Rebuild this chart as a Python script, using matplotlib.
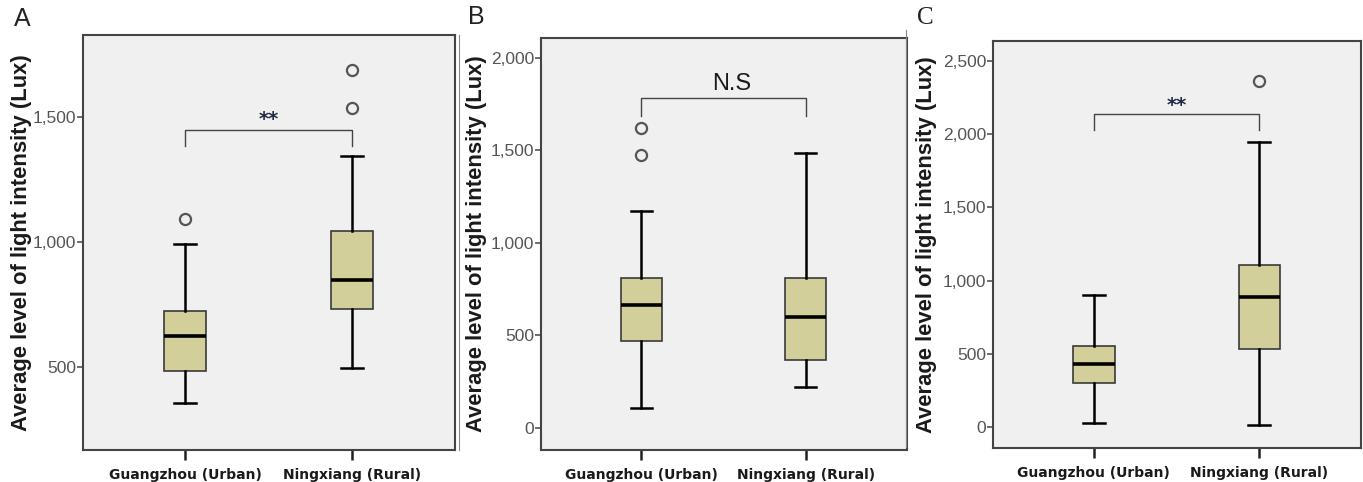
import matplotlib.pyplot as plt
from matplotlib.lines import Line2D

# group names shared by all panels
groups = ["Guangzhou (Urban)", "Ningxiang (Rural)"]

# five-number summaries: lower whisker, Q1, median, Q3, upper whisker
statsA = [[356, 484, 624, 724, 992], [496, 732, 848, 1044, 1344]]
fliersA = [[1092], [1536, 1688]]
statsB = [[108, 468, 665, 811, 1173], [221, 365, 600, 808, 1484]]
fliersB = [[1478, 1619], []]
statsC = [[27, 302, 432, 555, 904], [14, 534, 891, 1109, 1945]]
fliersC = [[], [2363]]

panels = [
    # letter, stats, fliers, ylim, yticks, bracket (top, leg bottom), label, label y, label size
    ("A", statsA, fliersA, (168, 1828), [500, 1000, 1500], (1448, 1384), "**", 1490, 14),
    ("B", statsB, fliersB, (-119, 2108), [0, 500, 1000, 1500, 2000], (1781, 1684), "N.S", 1800, 17),
    ("C", statsC, fliersC, (-143, 2637), [0, 500, 1000, 1500, 2000, 2500], (2137, 2027), "**", 2196, 14),
]

axes_pos = [
    [0.0609, 0.0664, 0.2729, 0.861],
    [0.3969, 0.0664, 0.2685, 0.8548],
    [0.7285, 0.0705, 0.2700, 0.8444],
]
label_x = [-0.137, -0.147, -0.152]
letter_pos = [(0.010, 0.960), (0.343, 0.965), (0.673, 0.963)]

fig = plt.figure(figsize=(13.63, 4.82), dpi=100)

for i, (letter, stats, fliers, ylim, yticks, bracket, sig, sig_y, sig_size) in enumerate(panels):
    ax = fig.add_axes(axes_pos[i])
    ax.set_facecolor("#f0f0f0")

    bxp_stats = []
    for name, s, f in zip(groups, stats, fliers):
        bxp_stats.append({"label": name, "whislo": s[0], "q1": s[1], "med": s[2],
                          "q3": s[3], "whishi": s[4], "fliers": f})

    ax.bxp(bxp_stats, positions=[1, 2], widths=0.25, patch_artist=True,
           capwidths=0.13,
           boxprops=dict(facecolor="#d3cf9a", edgecolor="#3a3a3a", linewidth=1.2),
           medianprops=dict(color="black", linewidth=2.6),
           whiskerprops=dict(color="black", linewidth=1.8),
           capprops=dict(color="black", linewidth=1.8),
           flierprops=dict(marker="o", markerfacecolor="none", markeredgecolor="#555555",
                           markersize=8, markeredgewidth=1.6))

    # significance bracket
    top, leg = bracket
    ax.plot([1, 1, 2, 2], [leg, top, top, leg], color="#444444", linewidth=1.0)
    if sig == "N.S":
        ax.text(1.55, sig_y, sig, ha="center", va="bottom", fontsize=sig_size,
                family="Liberation Sans", color="#1a1a1a")
    else:
        ax.text(1.5, sig_y, sig, ha="center", va="center", fontsize=sig_size,
                fontweight="bold", family="DejaVu Sans", color="#1f2a44")

    ax.set_xlim(0.39, 2.615)
    ax.set_ylim(*ylim)
    ax.set_yticks(yticks)
    ax.set_yticklabels([f"{v:,}" for v in yticks])
    ax.set_xticks([1, 2])
    ax.set_xticklabels(groups)

    ax.tick_params(axis="y", length=4, width=1.2, color="#555555", pad=1,
                   labelsize=12.5, labelcolor="#555555")
    ax.tick_params(axis="x", length=7, width=1.8, color="#222222", pad=6,
                   labelsize=10, labelcolor="#1a1a1a")
    for lab in ax.get_yticklabels():
        lab.set_family("Liberation Sans")
    for lab in ax.get_xticklabels():
        lab.set_family("DejaVu Sans")
        lab.set_fontweight("bold")

    for sp in ax.spines.values():
        sp.set_color("#444444")
        sp.set_linewidth(1.5)

    ax.set_ylabel("Average level of light intensity (Lux)", fontsize=15.8,
                  fontweight="bold", family="Liberation Sans", color="#1a1a1a")
    ax.yaxis.set_label_coords(label_x[i], 0.5)

    fig.text(letter_pos[i][0], letter_pos[i][1], letter, fontsize=18,
             family="Liberation Serif" if letter == "C" else "Liberation Sans",
             va="center", ha="left", color="#222222")

# thin borders left by the original panel images
for x, y0, y1 in [(0.3368, 0.066, 0.927), (0.6645, 0.073, 0.938)]:
    fig.add_artist(Line2D([x, x], [y0, y1], transform=fig.transFigure,
                          color="#888888", linewidth=0.8))

fig.savefig("out.png", dpi=100)
